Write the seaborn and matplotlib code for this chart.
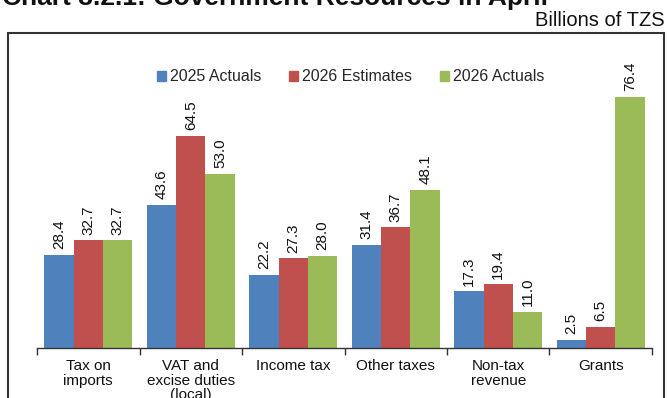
import matplotlib
matplotlib.use("Agg")
import matplotlib.pyplot as plt
import matplotlib.patches as mpatches
import pandas as pd
import seaborn as sns

categories = ["Tax on\nimports", "VAT and\nexcise duties\n(local)", "Income tax",
              "Other taxes", "Non-tax\nrevenue", "Grants"]
actuals_2025 = [28.4, 43.6, 22.2, 31.4, 17.3, 2.5]
estimates_2026 = [32.7, 64.5, 27.3, 36.7, 19.4, 6.5]
actuals_2026 = [32.7, 53.0, 28.0, 48.1, 11.0, 76.4]
series_names = ["2025 Actuals", "2026 Estimates", "2026 Actuals"]
colors = ["#4F81BD", "#C0504D", "#9BBB59"]

rows = []
for name, vals in zip(series_names, [actuals_2025, estimates_2026, actuals_2026]):
    for cat, v in zip(categories, vals):
        rows.append({"category": cat, "series": name, "value": v})
df = pd.DataFrame(rows)

sns.set_theme(style="white")
plt.rcParams["font.family"] = ["Liberation Sans", "DejaVu Sans"]

fig = plt.figure(figsize=(6.67, 3.98), dpi=100)
ax = fig.add_axes([0.0555, 0.1256, 0.922, 0.7437])

sns.barplot(data=df, x="category", y="value", hue="series", order=categories,
            hue_order=series_names, palette=colors, width=0.86, saturation=1,
            edgecolor="none", linewidth=0, ax=ax)

# value labels above each bar
for container in ax.containers:
    for bar in container:
        h = bar.get_height()
        ax.annotate(f"{h:.1f}", (bar.get_x() + bar.get_width() / 2, h),
                    xytext=(0, 4), textcoords="offset points",
                    ha="center", va="bottom", rotation=90, fontsize=11,
                    color="#111111")

ax.set_ylim(0, 90)
ax.set_xlim(-0.5, len(categories) - 0.5)
ax.set_xlabel("")
ax.set_ylabel("")
ax.set_yticks([])
for side in ["top", "left", "right"]:
    ax.spines[side].set_visible(False)
ax.spines["bottom"].set_color("#333333")
ax.spines["bottom"].set_linewidth(1.0)

ax.set_xticks(range(len(categories)))
ax.set_xticklabels(categories, fontsize=11, color="#111111", linespacing=1.05)
ax.tick_params(axis="x", which="major", length=0, pad=8)
ax.set_xticks([i - 0.5 for i in range(len(categories) + 1)], minor=True)
ax.tick_params(axis="x", which="minor", length=5, width=1, color="#333333",
               direction="out", bottom=True)

handles = [mpatches.Patch(color=c) for c in colors]
ax.legend(handles, series_names, loc="upper center", bbox_to_anchor=(0.51, 0.99),
          ncol=3, frameon=False, fontsize=11.5, handlelength=0.6, handleheight=0.6,
          handletextpad=0.25, columnspacing=1.7)

# outer frame around the chart area
frame = mpatches.Rectangle((8 / 667, -0.1), (664 - 8) / 667, 1.1 - 33 / 398,
                           transform=fig.transFigure, fill=False,
                           edgecolor="#333333", linewidth=1.5, clip_on=False)
fig.patches.append(frame)

fig.text(0.003, 1.0 - 5 / 398, "Chart 3.2.1: Government Resources in April",
         fontsize=19, fontweight="bold", ha="left", va="baseline", color="#111111")
fig.text(665 / 667, 1.0 - 26 / 398, "Billions of TZS", fontsize=14.5,
         ha="right", va="baseline", color="#111111")

fig.savefig("out.png", dpi=100)
